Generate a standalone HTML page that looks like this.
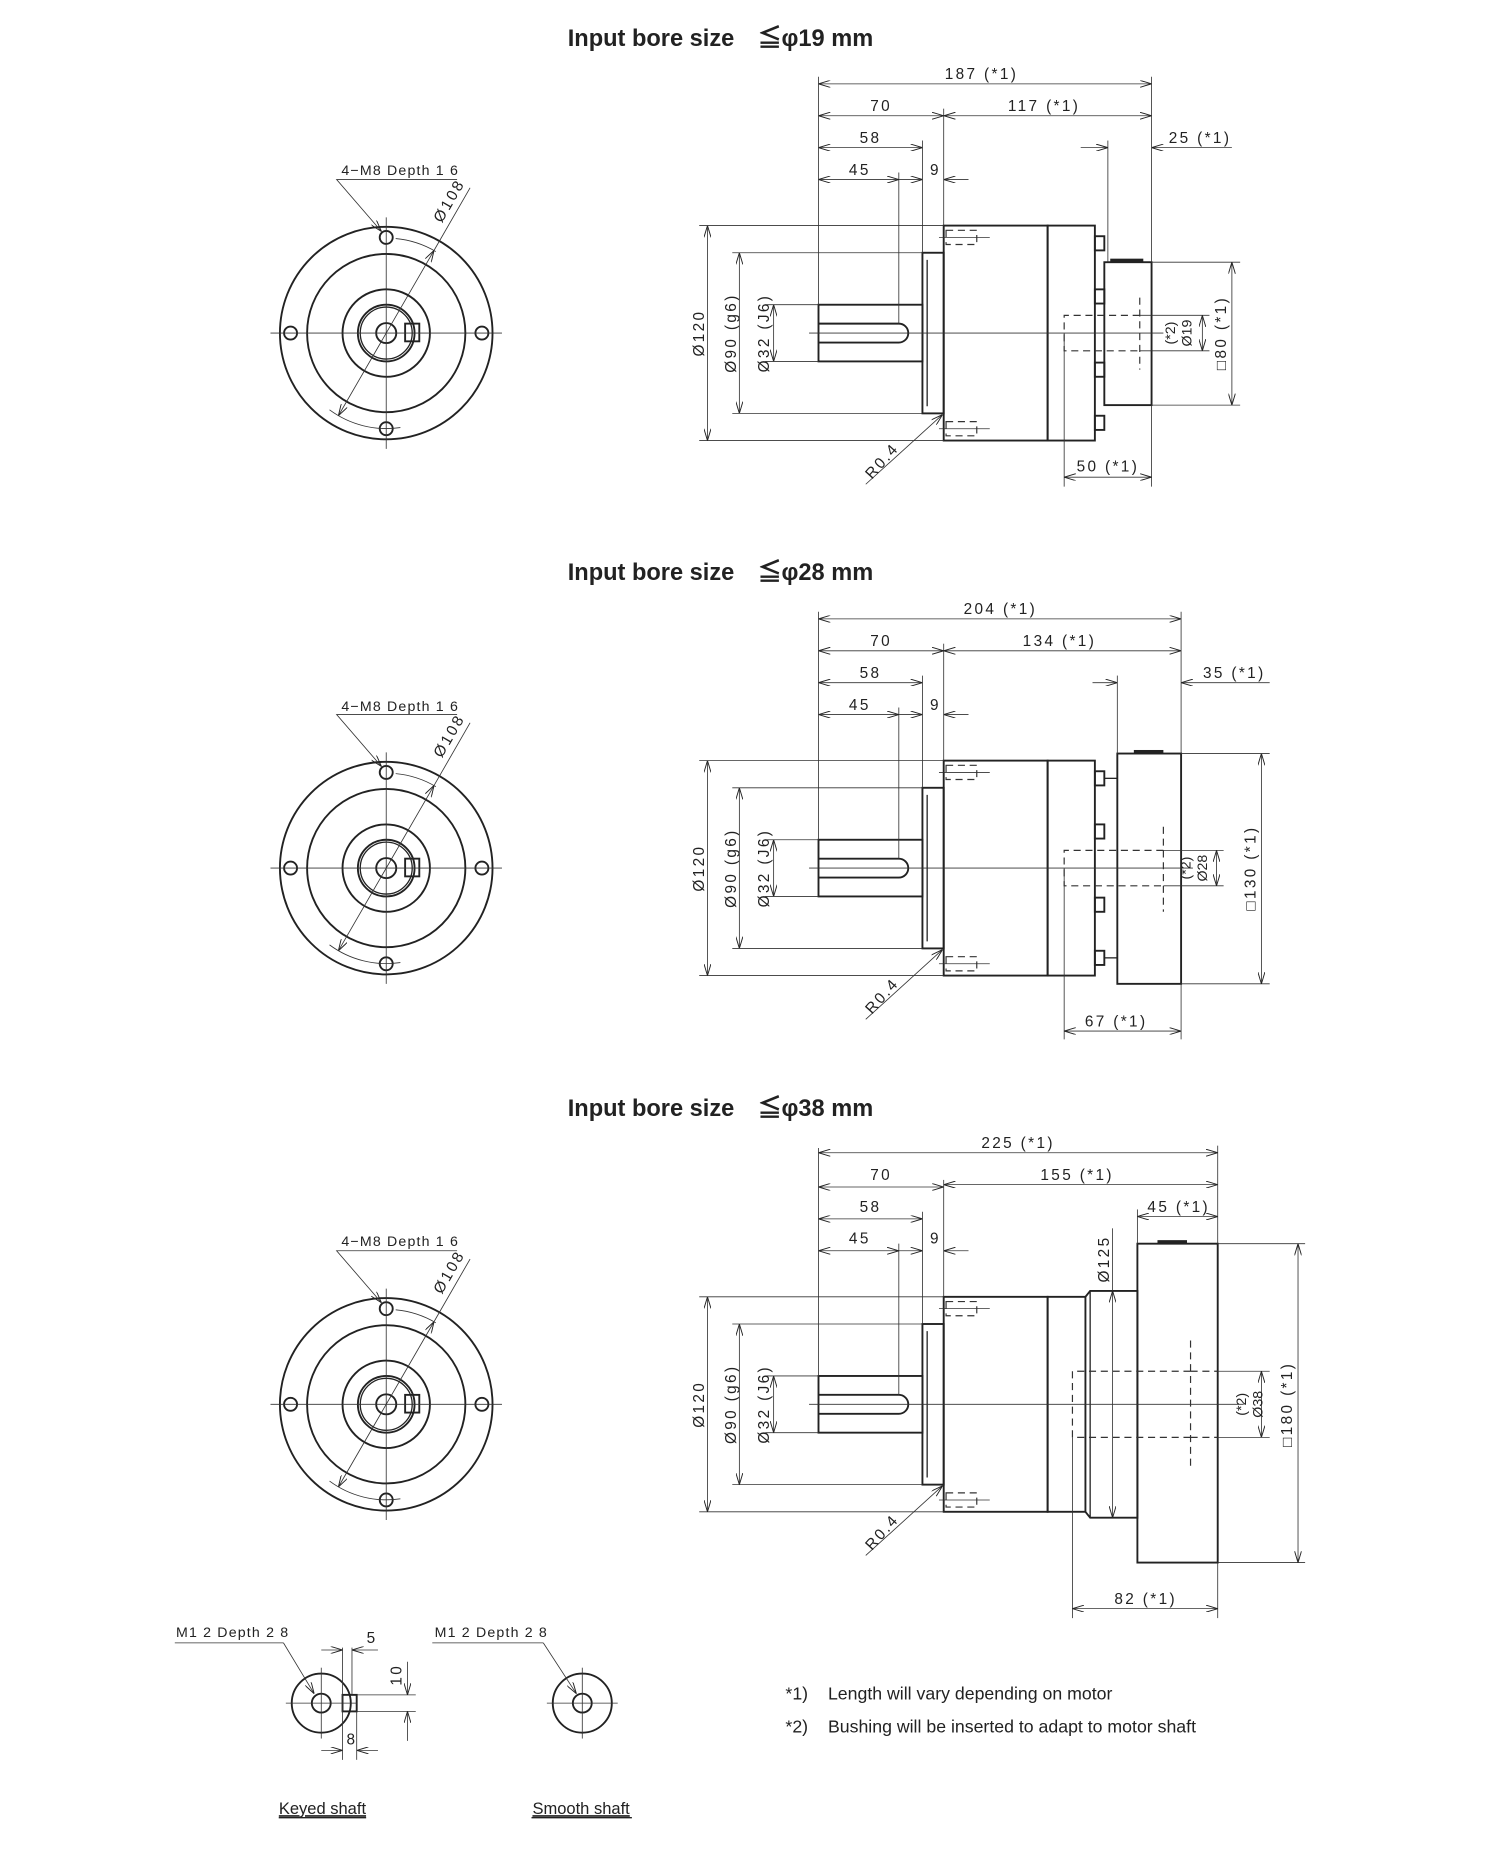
<!DOCTYPE html>
<html><head><meta charset="utf-8"><style>
html,body{margin:0;padding:0;background:#fff}
svg{display:block}
.t{font-family:"Liberation Sans",sans-serif;font-weight:bold;font-size:20px;fill:#222}
.d{font-family:"Liberation Sans",sans-serif;font-size:13px;letter-spacing:2px;fill:#222;text-anchor:middle}
.s{font-family:"Liberation Sans",sans-serif;font-size:12px;letter-spacing:1px;fill:#222}
.n{font-family:"Liberation Sans",sans-serif;font-size:15px;fill:#222}
.k{stroke:#222;stroke-width:1.6;fill:none}
.m{stroke:#222;stroke-width:1.1;fill:none}
.h{stroke:#333;stroke-width:0.7;fill:none}
.ds{stroke:#333;stroke-width:1;fill:none;stroke-dasharray:6,4}
</style></head><body>
<svg width="1500" height="1851" viewBox="0 0 1270 1567.2" xmlns="http://www.w3.org/2000/svg">
<defs>
<marker id="a" viewBox="0 0 10 6" refX="10" refY="3" markerWidth="10" markerHeight="6" markerUnits="userSpaceOnUse" orient="auto-start-reverse"><path d="M0,0 L10,3 L0,6" fill="none" stroke="#222" stroke-width="0.8"/></marker>
<g id="fv">
<circle r="90" class="k"/><circle r="67" class="k"/><circle r="37" class="k"/><circle r="24" class="k"/><circle r="22" class="m"/><circle r="8.5" class="k"/>
<circle cx="0" cy="-81" r="5.5" class="k"/><circle cx="81" cy="0" r="5.5" class="k"/><circle cx="0" cy="81" r="5.5" class="k"/><circle cx="-81" cy="0" r="5.5" class="k"/>
<rect x="16" y="-8" width="12" height="15" class="k" fill="#fff"/>
<line x1="-98" y1="0" x2="98" y2="0" class="h"/><line x1="0" y1="-98" x2="0" y2="98" class="h"/>
<line x1="-40.5" y1="70" x2="40.5" y2="-70" class="h" marker-start="url(#a)" marker-end="url(#a)"/>
<line x1="40.5" y1="-70" x2="71" y2="-123" class="h"/>
<path d="M8,-80 A81,81 0 0 1 42,-69" class="h"/><path d="M-48,65 A81,81 0 0 0 12,80" class="h"/>
<polyline points="60,-130 -42,-130 -4,-86" class="h" marker-end="url(#a)"/>
</g>
<g id="sv">
<rect x="693" y="258" width="88" height="48" class="k"/>
<path d="M693,274 H761 A8,8 0 0 1 761,290 H693" class="k"/>
<rect x="781" y="214" width="18" height="136" class="k"/>
<line x1="785" y1="220" x2="785" y2="344" class="m"/>
<rect x="799" y="191" width="88" height="182" class="k"/>
<rect x="801" y="195" width="26" height="12" class="ds"/><line x1="795" y1="201" x2="838" y2="201" class="h"/>
<rect x="801" y="357" width="26" height="12" class="ds"/><line x1="795" y1="363" x2="838" y2="363" class="h"/>
<line x1="592" y1="191" x2="799" y2="191" class="h"/><line x1="592" y1="373" x2="799" y2="373" class="h"/>
<line x1="599" y1="191" x2="599" y2="373" class="h" marker-start="url(#a)" marker-end="url(#a)"/>
<line x1="620" y1="214" x2="781" y2="214" class="h"/><line x1="620" y1="350" x2="781" y2="350" class="h"/>
<line x1="626" y1="214" x2="626" y2="350" class="h" marker-start="url(#a)" marker-end="url(#a)"/>
<line x1="648" y1="258" x2="693" y2="258" class="h"/><line x1="648" y1="306" x2="693" y2="306" class="h"/>
<line x1="655" y1="258" x2="655" y2="306" class="h" marker-start="url(#a)" marker-end="url(#a)"/>
<line x1="733" y1="410" x2="798" y2="351" class="h" marker-end="url(#a)"/>
<line x1="693" y1="65" x2="693" y2="258" class="h"/>
<line x1="799" y1="92" x2="799" y2="191" class="h"/>
<line x1="781" y1="119" x2="781" y2="214" class="h"/>
<line x1="761" y1="146" x2="761" y2="274" class="h"/>
<line x1="693" y1="98" x2="799" y2="98" class="h" marker-start="url(#a)" marker-end="url(#a)"/>
<line x1="693" y1="125" x2="781" y2="125" class="h" marker-start="url(#a)" marker-end="url(#a)"/>
<line x1="693" y1="152" x2="761" y2="152" class="h" marker-start="url(#a)" marker-end="url(#a)"/>
<line x1="761" y1="152" x2="781" y2="152" class="h" marker-end="url(#a)"/>
<line x1="820" y1="152" x2="799" y2="152" class="h" marker-end="url(#a)"/>
</g>
</defs>

<!-- Section 1 -->
<text x="610" y="39" class="t" text-anchor="middle">Input bore size　≦φ19 mm</text>
<use href="#fv" x="327" y="282"/>
<text x="289" y="148" class="s">4−M8 Depth 1 6</text>
<text class="d" transform="translate(384,172) rotate(-60)">Ø108</text>
<use href="#sv" x="0" y="0"/>
<rect x="887" y="191" width="40" height="182" class="k"/>
<rect x="927" y="200" width="8" height="12" class="k"/><rect x="927" y="245" width="8" height="12" class="k"/><rect x="927" y="307" width="8" height="12" class="k"/><rect x="927" y="352" width="8" height="12" class="k"/>
<rect x="935" y="222" width="40" height="121" class="k"/><rect x="940" y="219" width="28" height="3" fill="#222"/>
<path d="M965,267 H901 V297 H965" class="ds"/><line x1="965" y1="252" x2="965" y2="313" class="ds"/>
<line x1="685" y1="282" x2="985" y2="282" class="h"/>
<line x1="965" y1="267" x2="1024" y2="267" class="h"/><line x1="965" y1="297" x2="1024" y2="297" class="h"/>
<line x1="1018" y1="267" x2="1018" y2="297" class="h" marker-start="url(#a)" marker-end="url(#a)"/>
<line x1="975" y1="222" x2="1050" y2="222" class="h"/><line x1="975" y1="343" x2="1050" y2="343" class="h"/>
<line x1="1043" y1="222" x2="1043" y2="343" class="h" marker-start="url(#a)" marker-end="url(#a)"/>
<line x1="693" y1="71" x2="975" y2="71" class="h" marker-start="url(#a)" marker-end="url(#a)"/>
<line x1="799" y1="98" x2="975" y2="98" class="h" marker-start="url(#a)" marker-end="url(#a)"/>
<line x1="915" y1="125" x2="938" y2="125" class="h" marker-end="url(#a)"/><line x1="1043" y1="125" x2="975" y2="125" class="h" marker-end="url(#a)"/>
<line x1="938" y1="119" x2="938" y2="222" class="h"/><line x1="975" y1="65" x2="975" y2="222" class="h"/>
<line x1="901" y1="282" x2="901" y2="412" class="h"/><line x1="975" y1="343" x2="975" y2="412" class="h"/>
<line x1="901" y1="404" x2="975" y2="404" class="h" marker-start="url(#a)" marker-end="url(#a)"/>
<text x="831" y="67" class="d">187 (*1)</text><text x="746" y="94" class="d">70</text><text x="884" y="94" class="d">117 (*1)</text>
<text x="737" y="121" class="d">58</text><text x="1016" y="121" class="d">25 (*1)</text><text x="728" y="148" class="d">45</text><text x="792" y="148" class="d">9</text>
<text x="938" y="399" class="d">50 (*1)</text>
<text class="d" transform="translate(596,282) rotate(-90)">Ø120</text>
<text class="d" transform="translate(623,282) rotate(-90)">Ø90 (g6)</text>
<text class="d" transform="translate(651,282) rotate(-90)">Ø32 (J6)</text>
<text class="d" transform="translate(750,393) rotate(-48)">R0.4</text>
<text class="d" transform="translate(995,282) rotate(-90)" style="font-size:12px;letter-spacing:0">(*2)</text>
<text class="d" transform="translate(1009,282) rotate(-90)" style="font-size:12px;letter-spacing:0">Ø19</text>
<text class="d" transform="translate(1038,282) rotate(-90)">□80 (*1)</text>

<!-- Section 2 -->
<text x="610" y="491" class="t" text-anchor="middle">Input bore size　≦φ28 mm</text>
<use href="#fv" x="327" y="735"/>
<text x="289" y="602" class="s">4−M8 Depth 1 6</text>
<text class="d" transform="translate(384,625) rotate(-60)">Ø108</text>
<use href="#sv" x="0" y="453"/>
<rect x="887" y="644" width="40" height="182" class="k"/>
<rect x="927" y="653" width="8" height="12" class="k"/><rect x="927" y="698" width="8" height="12" class="k"/><rect x="927" y="760" width="8" height="12" class="k"/><rect x="927" y="805" width="8" height="12" class="k"/>
<line x1="935" y1="659" x2="946" y2="659" class="m"/><line x1="935" y1="811" x2="946" y2="811" class="m"/>
<rect x="946" y="638" width="54" height="195" class="k"/><rect x="960" y="635" width="25" height="3" fill="#222"/>
<path d="M985,720 H901 V750 H985" class="ds"/><line x1="985" y1="700" x2="985" y2="772" class="ds"/>
<line x1="685" y1="735" x2="1010" y2="735" class="h"/>
<line x1="985" y1="720" x2="1036" y2="720" class="h"/><line x1="985" y1="750" x2="1036" y2="750" class="h"/>
<line x1="1030" y1="720" x2="1030" y2="750" class="h" marker-start="url(#a)" marker-end="url(#a)"/>
<line x1="1000" y1="638" x2="1075" y2="638" class="h"/><line x1="1000" y1="833" x2="1075" y2="833" class="h"/>
<line x1="1068" y1="638" x2="1068" y2="833" class="h" marker-start="url(#a)" marker-end="url(#a)"/>
<line x1="693" y1="524" x2="1000" y2="524" class="h" marker-start="url(#a)" marker-end="url(#a)"/>
<line x1="799" y1="551" x2="1000" y2="551" class="h" marker-start="url(#a)" marker-end="url(#a)"/>
<line x1="925" y1="578" x2="946" y2="578" class="h" marker-end="url(#a)"/><line x1="1075" y1="578" x2="1000" y2="578" class="h" marker-end="url(#a)"/>
<line x1="946" y1="572" x2="946" y2="638" class="h"/><line x1="1000" y1="518" x2="1000" y2="638" class="h"/>
<line x1="901" y1="735" x2="901" y2="880" class="h"/><line x1="1000" y1="833" x2="1000" y2="880" class="h"/>
<line x1="901" y1="873" x2="1000" y2="873" class="h" marker-start="url(#a)" marker-end="url(#a)"/>
<text x="847" y="520" class="d">204 (*1)</text><text x="746" y="547" class="d">70</text><text x="897" y="547" class="d">134 (*1)</text>
<text x="737" y="574" class="d">58</text><text x="1045" y="574" class="d">35 (*1)</text><text x="728" y="601" class="d">45</text><text x="792" y="601" class="d">9</text>
<text x="945" y="869" class="d">67 (*1)</text>
<text class="d" transform="translate(596,735) rotate(-90)">Ø120</text>
<text class="d" transform="translate(623,735) rotate(-90)">Ø90 (g6)</text>
<text class="d" transform="translate(651,735) rotate(-90)">Ø32 (J6)</text>
<text class="d" transform="translate(750,846) rotate(-48)">R0.4</text>
<text class="d" transform="translate(1008,735) rotate(-90)" style="font-size:12px;letter-spacing:0">(*2)</text>
<text class="d" transform="translate(1022,735) rotate(-90)" style="font-size:12px;letter-spacing:0">Ø28</text>
<text class="d" transform="translate(1063,735) rotate(-90)">□130 (*1)</text>

<!-- Section 3 -->
<text x="610" y="945" class="t" text-anchor="middle">Input bore size　≦φ38 mm</text>
<use href="#fv" x="327" y="1189"/>
<text x="289" y="1055" class="s">4−M8 Depth 1 6</text>
<text class="d" transform="translate(384,1079) rotate(-60)">Ø108</text>
<use href="#sv" x="0" y="907"/>
<rect x="887" y="1098" width="32" height="182" class="k"/>
<path d="M919,1098 L923,1093 H963 V1285 H923 L919,1280" class="k"/>
<line x1="923" y1="1093" x2="923" y2="1285" class="m"/>
<rect x="963" y="1053" width="68" height="270" class="k"/><rect x="980" y="1050" width="25" height="3" fill="#222"/>
<path d="M1008,1161 H908 V1217 H1008" class="ds"/><line x1="908" y1="1217" x2="908" y2="1370" class="h"/>
<line x1="1008" y1="1135" x2="1008" y2="1242" class="ds"/>
<line x1="1008" y1="1161" x2="1031" y2="1161" class="ds"/><line x1="1008" y1="1217" x2="1031" y2="1217" class="ds"/>
<line x1="685" y1="1189" x2="1053" y2="1189" class="h"/>
<line x1="1031" y1="1161" x2="1075" y2="1161" class="h"/><line x1="1031" y1="1217" x2="1075" y2="1217" class="h"/>
<line x1="1068" y1="1161" x2="1068" y2="1217" class="h" marker-start="url(#a)" marker-end="url(#a)"/>
<line x1="1031" y1="1053" x2="1105" y2="1053" class="h"/><line x1="1031" y1="1323" x2="1105" y2="1323" class="h"/>
<line x1="1099" y1="1053" x2="1099" y2="1323" class="h" marker-start="url(#a)" marker-end="url(#a)"/>
<line x1="942" y1="1040" x2="942" y2="1093" class="h"/>
<line x1="942" y1="1093" x2="942" y2="1285" class="h" marker-start="url(#a)" marker-end="url(#a)"/>
<line x1="693" y1="976" x2="1031" y2="976" class="h" marker-start="url(#a)" marker-end="url(#a)"/>
<line x1="799" y1="1003" x2="1031" y2="1003" class="h" marker-start="url(#a)" marker-end="url(#a)"/>
<line x1="963" y1="1030" x2="1031" y2="1030" class="h" marker-start="url(#a)" marker-end="url(#a)"/>
<line x1="963" y1="1024" x2="963" y2="1053" class="h"/><line x1="1031" y1="970" x2="1031" y2="1053" class="h"/>
<line x1="1031" y1="1323" x2="1031" y2="1370" class="h"/>
<line x1="908" y1="1362" x2="1031" y2="1362" class="h" marker-start="url(#a)" marker-end="url(#a)"/>
<text x="862" y="972" class="d">225 (*1)</text><text x="746" y="999" class="d">70</text><text x="912" y="999" class="d">155 (*1)</text>
<text x="737" y="1026" class="d">58</text><text x="998" y="1026" class="d">45 (*1)</text><text x="728" y="1053" class="d">45</text><text x="792" y="1053" class="d">9</text>
<text x="970" y="1358" class="d">82 (*1)</text>
<text class="d" transform="translate(939,1066) rotate(-90)">Ø125</text>
<text class="d" transform="translate(596,1189) rotate(-90)">Ø120</text>
<text class="d" transform="translate(623,1189) rotate(-90)">Ø90 (g6)</text>
<text class="d" transform="translate(651,1189) rotate(-90)">Ø32 (J6)</text>
<text class="d" transform="translate(750,1300) rotate(-48)">R0.4</text>
<text class="d" transform="translate(1055,1189) rotate(-90)" style="font-size:12px;letter-spacing:0">(*2)</text>
<text class="d" transform="translate(1069,1189) rotate(-90)" style="font-size:12px;letter-spacing:0">Ø38</text>
<text class="d" transform="translate(1094,1189) rotate(-90)">□180 (*1)</text>

<!-- Bottom details -->
<circle cx="272" cy="1442" r="25" class="k"/><circle cx="272" cy="1442" r="8" class="k"/>
<rect x="290" y="1435" width="12" height="14" class="k" fill="#fff"/>
<line x1="242" y1="1442" x2="302" y2="1442" class="h"/><line x1="272" y1="1412" x2="272" y2="1472" class="h"/>
<text x="149" y="1386" class="s">M1 2  Depth 2 8</text>
<polyline points="240,1391 148,1391" class="h"/><line x1="240" y1="1391" x2="266" y2="1434" class="h" marker-end="url(#a)"/>
<line x1="290" y1="1395" x2="290" y2="1490" class="h"/><line x1="298" y1="1395" x2="298" y2="1435" class="h"/><line x1="302" y1="1449" x2="302" y2="1490" class="h"/>
<line x1="272" y1="1397" x2="290" y2="1397" class="h" marker-end="url(#a)"/><line x1="320" y1="1397" x2="298" y2="1397" class="h" marker-end="url(#a)"/>
<text x="315" y="1391" class="d">5</text>
<line x1="302" y1="1435" x2="352" y2="1435" class="h"/><line x1="302" y1="1449" x2="352" y2="1449" class="h"/>
<line x1="345" y1="1407" x2="345" y2="1435" class="h" marker-end="url(#a)"/><line x1="345" y1="1474" x2="345" y2="1449" class="h" marker-end="url(#a)"/>
<text class="d" transform="translate(340,1418) rotate(-90)">10</text>
<line x1="272" y1="1482" x2="290" y2="1482" class="h" marker-end="url(#a)"/><line x1="320" y1="1482" x2="302" y2="1482" class="h" marker-end="url(#a)"/>
<text x="298" y="1477" class="d">8</text>

<circle cx="493" cy="1442" r="25" class="k"/><circle cx="493" cy="1442" r="8" class="k"/>
<line x1="463" y1="1442" x2="523" y2="1442" class="h"/><line x1="493" y1="1412" x2="493" y2="1472" class="h"/>
<text x="368" y="1386" class="s">M1 2  Depth 2 8</text>
<line x1="366" y1="1391" x2="460" y2="1391" class="h"/><line x1="460" y1="1391" x2="488" y2="1434" class="h" marker-end="url(#a)"/>

<text x="273" y="1536" class="n" text-anchor="middle" style="font-size:14px;text-decoration:underline">Keyed shaft</text>
<text x="492" y="1536" class="n" text-anchor="middle" style="font-size:14px;text-decoration:underline">Smooth shaft</text>
<line x1="236" y1="1539" x2="310" y2="1539" class="m"/><line x1="450" y1="1539" x2="535" y2="1539" class="m"/>

<text x="665" y="1439" class="n">*1)</text><text x="701" y="1439" class="n">Length will vary depending on motor</text>
<text x="665" y="1467" class="n">*2)</text><text x="701" y="1467" class="n">Bushing will be inserted to adapt to motor shaft</text>
</svg>
</body></html>
